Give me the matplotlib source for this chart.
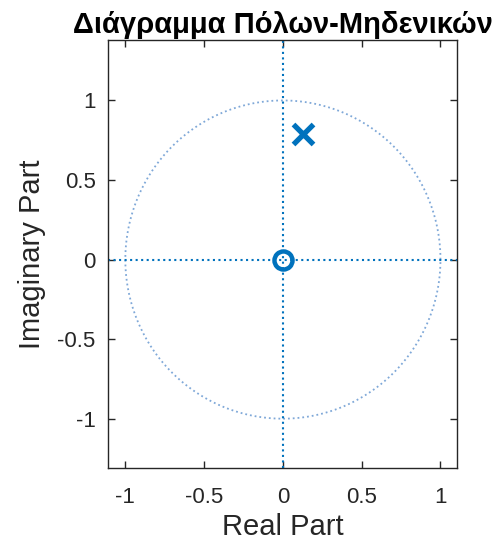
import numpy as np
import matplotlib
matplotlib.use("Agg")
import matplotlib.pyplot as plt

plt.rcParams['font.family'] = ['Liberation Sans', 'DejaVu Sans']

zeros_re = [0.0]
zeros_im = [0.0]
poles_re = [0.13]
poles_im = [0.79]
xticks = [-1, -0.5, 0, 0.5, 1]
yticks = [-1, -0.5, 0, 0.5, 1]
xticklabels = ['-1', '-0.5', '0', '0.5', '1']
yticklabels = ['-1', '-0.5', '0', '0.5', '1']
title = 'Διάγραμμα Πόλων-Μηδενικών'

blue = '#0072BD'
dark = '#262626'

fig = plt.figure(figsize=(4.96, 5.46), dpi=100)
ax = fig.add_axes([108/496, 1-468/546, (457-108)/496, (468-40)/546])

theta = np.linspace(0, 2*np.pi, 400)
ax.plot(np.cos(theta), np.sin(theta), linestyle=':', color='#7fa8d8', lw=1.3)
ax.axhline(0, linestyle=':', color=blue, lw=1.5)
ax.axvline(0, linestyle=':', color=blue, lw=1.5)
ax.plot(zeros_re, zeros_im, 'o', mfc='none', mec=blue, ms=13, mew=3.2)
ax.plot(poles_re, poles_im, 'x', color=blue, ms=14, mew=3.8)

ax.set_xlim(-1.11, 1.105)
ax.set_ylim(-1.31, 1.38)
ax.set_xticks(xticks)
ax.set_xticklabels(xticklabels)
ax.set_yticks(yticks)
ax.set_yticklabels(yticklabels)
ax.tick_params(direction='in', top=True, right=True, length=5, width=1,
               colors=dark, labelsize=16)
ax.tick_params(axis='x', pad=14)
ax.tick_params(axis='y', pad=9)
for s in ax.spines.values():
    s.set_color(dark)
    s.set_linewidth(1)
ax.set_xlabel('Real Part', fontsize=21, color=dark, labelpad=3)
ax.set_ylabel('Imaginary Part', fontsize=21, color=dark, labelpad=8)
ax.set_title(title, fontsize=21, fontweight='bold', color='black', pad=5)

fig.savefig('out.png', dpi=100)
